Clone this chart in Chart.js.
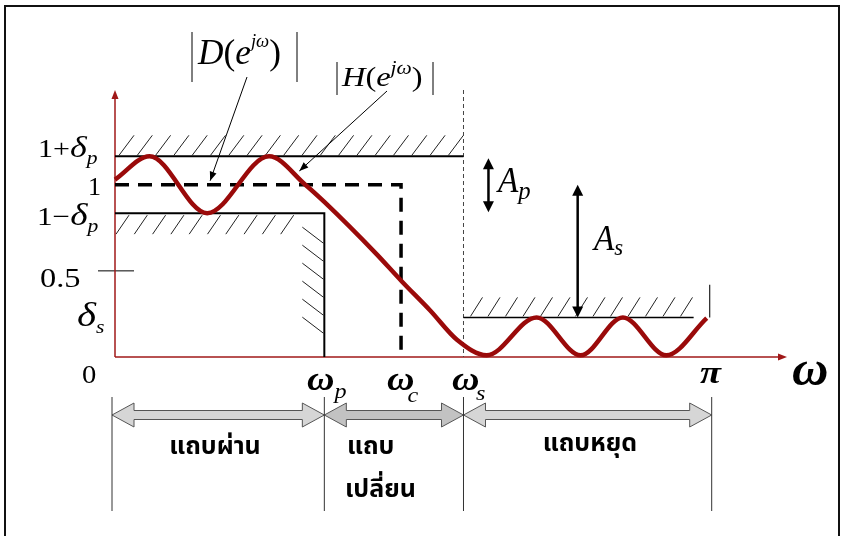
<!DOCTYPE html>
<html>
<head>
<meta charset="utf-8">
<script src="https://cdn.jsdelivr.net/npm/chart.js@4.4.0/dist/chart.umd.min.js"></script>
<style>
  html, body { margin: 0; padding: 0; background: #fff; }
</style>
</head>
<body>
<canvas id="spec" width="843" height="536"></canvas>
<script>
// ============================================================
// Filter specification (frequency in units of pi)
// ============================================================

const W_PASS = 0.352
const W_CUT = 0.481
const W_STOP = 0.586
const W_PI = 1
const W_MAX = 1.13
const DELTA_P = 0.165
const DELTA_S = 0.23
const MAG_MAX = 1.55

// realised response |H(e^jw)|
const responseFreq = [0, 0.058, 0.155, 0.259, 0.32, 0.352, 0.439, 0.482, 0.53, 0.575, 0.625, 0.709, 0.783, 0.854, 0.927, 0.995]
const responseMag  = [1.03, 1.165, 0.835, 1.165, 1.0, 0.9, 0.6, 0.44, 0.27, 0.1, 0.01, 0.23, 0.01, 0.23, 0.01, 0.226]

// ideal response |D(e^jw)|
const idealFreq = [0, W_CUT, W_CUT]
const idealMag  = [1, 1, 0.04]

// tolerance boundaries
const upperFreq = [0, W_STOP]
const upperMag  = [1 + DELTA_P, 1 + DELTA_P]
const lowerFreq = [0, W_PASS, W_PASS]
const lowerMag  = [1 - DELTA_P, 1 - DELTA_P, 0]
const stopFreq  = [W_STOP, 0.973]
const stopMag   = [DELTA_S, DELTA_S]
const stopEndFreq = [W_PI, W_PI]
const stopEndMag  = [DELTA_S, 0.42]
const stopEdgeFreq = [W_STOP, W_STOP]
const stopEdgeMag  = [MAG_MAX, 0]

// bands under the axis
const bandStart = [0, W_PASS, W_STOP]
const bandEnd   = [W_PASS, W_STOP, W_PI]
const bandNames = [['แถบผ่าน'], ['แถบ', 'เปลี่ยน'], ['แถบหยุด']]

const CURVE_RED = '#9a0a0a'
const AXIS_RED = '#a01818'
const SERIF = '"Liberation Serif", "DejaVu Serif", serif'
const THAI = '"Noto Sans Thai", Tahoma, sans-serif'

function pts(xs, ys) {
  return xs.map((x, i) => ({ x, y: ys[i] }))
}

// ============================================================
// Drawing helpers
// ============================================================

// runs of text, each with its own font / shift, scaled horizontally by sx
function drawRuns(ctx, x, y, runs, sx = 1) {
  ctx.save()
  ctx.translate(x, y)
  ctx.scale(sx, 1)
  ctx.fillStyle = '#000'
  ctx.textBaseline = 'alphabetic'
  ctx.textAlign = 'left'
  let cx = 0
  runs.forEach(r => {
    ctx.font = r.f + ' ' + SERIF
    ctx.fillText(r.t, cx + (r.dx || 0), r.dy || 0)
    cx += ctx.measureText(r.t).width + (r.dx || 0)
  })
  ctx.restore()
}

function line(ctx, x1, y1, x2, y2) {
  ctx.beginPath()
  ctx.moveTo(x1, y1)
  ctx.lineTo(x2, y2)
  ctx.stroke()
}

function head(ctx, x, y, angle, len, half) {
  ctx.save()
  ctx.translate(x, y)
  ctx.rotate(angle)
  ctx.beginPath()
  ctx.moveTo(0, 0)
  ctx.lineTo(-len, -half)
  ctx.lineTo(-len, half)
  ctx.closePath()
  ctx.fill()
  ctx.restore()
}

function hatch(ctx, x0, x1, yBase, h, lean, step) {
  for (let x = x0; x + lean <= x1; x += step) line(ctx, x, yBase, x + lean, yBase - h)
}

function blockArrow(ctx, xL, xR, yc, fill) {
  const hl = 22, hh = 12, sh = 4.5
  ctx.beginPath()
  ctx.moveTo(xL, yc)
  ctx.lineTo(xL + hl, yc - hh)
  ctx.lineTo(xL + hl, yc - sh)
  ctx.lineTo(xR - hl, yc - sh)
  ctx.lineTo(xR - hl, yc - hh)
  ctx.lineTo(xR, yc)
  ctx.lineTo(xR - hl, yc + hh)
  ctx.lineTo(xR - hl, yc + sh)
  ctx.lineTo(xL + hl, yc + sh)
  ctx.lineTo(xL + hl, yc + hh)
  ctx.closePath()
  ctx.fillStyle = fill
  ctx.fill()
  ctx.strokeStyle = '#555'
  ctx.lineWidth = 1
  ctx.stroke()
}

// ============================================================
// Axes, hatching and annotations
// ============================================================

const specPlugin = {
  id: 'spec',
  beforeDatasetsDraw(chart) {
    const { ctx, chartArea: a, scales: { x, y } } = chart
    ctx.save()

    // hatched forbidden regions
    ctx.strokeStyle = '#222'
    ctx.lineWidth = 1
    const yUp = y.getPixelForValue(1 + DELTA_P)
    const yLo = y.getPixelForValue(1 - DELTA_P)
    const ySt = y.getPixelForValue(DELTA_S)
    const xP = x.getPixelForValue(W_PASS)
    hatch(ctx, a.left + 4, x.getPixelForValue(W_STOP), yUp - 1, 20, 15, 18.3)
    hatch(ctx, a.left + 1, xP - 14, yLo + 21, 19, 13, 18.3)
    for (let k = 0; k < 6; k++) line(ctx, xP - 22, yLo + 14 + k * 18, xP - 1, yLo + 30 + k * 18)
    hatch(ctx, x.getPixelForValue(W_STOP) + 7, x.getPixelForValue(0.973), ySt - 1, 19, 12, 17.5)

    // 0.5 tick
    ctx.strokeStyle = '#000'
    const yHalf = y.getPixelForValue(0.5)
    line(ctx, a.left - 17, yHalf, a.left + 19, yHalf)

    // axes with arrowheads
    ctx.strokeStyle = AXIS_RED
    ctx.fillStyle = AXIS_RED
    ctx.lineWidth = 1.5
    line(ctx, a.left, a.bottom, a.left, a.top + 6)
    head(ctx, a.left, a.top, -Math.PI / 2, 9, 3.5)
    line(ctx, a.left, a.bottom, a.right - 6, a.bottom)
    head(ctx, a.right, a.bottom, 0, 9, 3.5)
    ctx.restore()
  },
  afterDatasetsDraw(chart) {
    const { ctx, scales: { x, y } } = chart
    ctx.save()
    ctx.fillStyle = '#000'
    ctx.strokeStyle = '#000'

    // Ap and As double arrows
    ctx.lineWidth = 2.5
    const xAp = x.getPixelForValue(0.628)
    const y1 = y.getPixelForValue(1 + DELTA_P) + 2
    const y2 = y.getPixelForValue(1 - DELTA_P) - 1
    line(ctx, xAp, y1 + 8, xAp, y2 - 8)
    head(ctx, xAp, y1, -Math.PI / 2, 11, 5.5)
    head(ctx, xAp, y2, Math.PI / 2, 11, 5.5)
    const xAs = x.getPixelForValue(0.778)
    const y3 = y.getPixelForValue(1)
    const y4 = y.getPixelForValue(DELTA_S)
    line(ctx, xAs, y3 + 8, xAs, y4 - 8)
    head(ctx, xAs, y3, -Math.PI / 2, 11, 5.5)
    head(ctx, xAs, y4, Math.PI / 2, 11, 5.5)

    // leader lines to the two curves
    ctx.lineWidth = 1
    const dEnd = [x.getPixelForValue(0.16), y.getPixelForValue(1) - 4]
    line(ctx, 247, 77, dEnd[0], dEnd[1])
    head(ctx, dEnd[0], dEnd[1], Math.atan2(dEnd[1] - 77, dEnd[0] - 247), 9, 3.5)
    const hEnd = [x.getPixelForValue(0.31), y.getPixelForValue(1.08)]
    line(ctx, 387, 91, hEnd[0], hEnd[1])
    head(ctx, hEnd[0], hEnd[1], Math.atan2(hEnd[1] - 91, hEnd[0] - 387), 9, 3.5)

    // |D(e^jw)| and |H(e^jw)|
    ctx.lineWidth = 1
    line(ctx, 192, 32, 192, 82)
    line(ctx, 297, 32, 297, 82)
    drawRuns(ctx, 198, 64, [
      { t: 'D', f: 'italic 36px' }, { t: '(', f: '36px' }, { t: 'e', f: 'italic 36px' },
      { t: 'jω', f: 'italic 19px', dy: -17 }, { t: ')', f: '36px' }
    ], 0.98)
    line(ctx, 337, 62, 337, 95)
    line(ctx, 433, 62, 433, 95)
    drawRuns(ctx, 342, 86, [
      { t: 'H', f: 'italic 27px' }, { t: '(', f: '27px' }, { t: 'e', f: 'italic 27px' },
      { t: 'jω', f: 'italic 18px', dy: -12 }, { t: ')', f: '27px' }
    ], 1.2)

    // magnitude labels
    drawRuns(ctx, 38, 157, [{ t: '1+', f: '25px' }, { t: 'δ', f: 'italic 30px' }, { t: 'p', f: 'italic 18px', dy: 7 }], 1.2)
    drawRuns(ctx, 88, y.getPixelForValue(1) + 10, [{ t: '1', f: '26px' }], 1.0)
    drawRuns(ctx, 37, 225, [{ t: '1−', f: '26px' }, { t: 'δ', f: 'italic 31px' }, { t: 'p', f: 'italic 18px', dy: 7 }], 1.2)
    drawRuns(ctx, 40, 287, [{ t: '0.5', f: '27px' }], 1.2)
    drawRuns(ctx, 77, 326, [{ t: 'δ', f: 'italic 34px' }, { t: 's', f: 'italic 18px', dy: 7 }], 1.2)

    // frequency labels
    drawRuns(ctx, 82, 383, [{ t: '0', f: '26px' }], 1.1)
    drawRuns(ctx, 307, 390, [{ t: 'ω', f: 'bold italic 33px' }, { t: 'p', f: 'italic 21px', dy: 8 }], 1.15)
    drawRuns(ctx, 387, 390, [{ t: 'ω', f: 'bold italic 33px' }, { t: 'c', f: 'italic 21px', dx: -6, dy: 12 }], 1.15)
    drawRuns(ctx, 452, 390, [{ t: 'ω', f: 'bold italic 33px' }, { t: 's', f: 'italic 21px', dx: -3, dy: 10 }], 1.15)
    drawRuns(ctx, 700, 383, [{ t: 'π', f: 'bold italic 32px' }], 1.2)
    drawRuns(ctx, 792, 385, [{ t: 'ω', f: 'bold italic 48px' }], 1.05)

    // Ap / As
    drawRuns(ctx, 498, 192, [{ t: 'A', f: 'italic 35px' }, { t: 'p', f: 'italic 26px', dy: 7 }], 0.95)
    drawRuns(ctx, 594, 250, [{ t: 'A', f: 'italic 35px' }, { t: 's', f: 'italic 24px', dy: 5 }], 0.95)

    // band arrows, separators and names
    const fills = ['#d6d6d6', '#c2c2c2', '#d6d6d6']
    bandStart.forEach((s, i) => {
      const xL = x.getPixelForValue(s) - (i === 0 ? 3 : 0)
      const xR = x.getPixelForValue(bandEnd[i]) + (i === 2 ? 2 : 0)
      blockArrow(ctx, xL, xR, 415, fills[i])
    })
    ctx.strokeStyle = '#333'
    ctx.lineWidth = 1
    ;[0, W_PASS, W_STOP, W_PI].forEach((f, i) => {
      const px = x.getPixelForValue(f) + (i === 0 ? -3 : i === 3 ? 2 : 0)
      line(ctx, px, 397, px, 511)
    })
    ctx.fillStyle = '#000'
    ctx.font = 'bold 25px ' + THAI
    ctx.textBaseline = 'middle'
    ctx.textAlign = 'center'
    ctx.fillText(bandNames[0][0], 215, 449)
    ctx.textAlign = 'left'
    ctx.fillText(bandNames[1][0], 347, 449)
    ctx.fillText(bandNames[1][1], 345, 492)
    ctx.textAlign = 'center'
    ctx.fillText(bandNames[2][0], 590, 446)

    // frame
    ctx.strokeStyle = '#111'
    ctx.lineWidth = 2
    ctx.strokeRect(5, 6, 834, 540)
    ctx.restore()
  }
}

// ============================================================
// Chart
// ============================================================

new Chart(document.getElementById('spec'), {
  type: 'line',
  data: {
    datasets: [
      {
        data: pts(responseFreq, responseMag),
        borderColor: CURVE_RED,
        borderWidth: 4.5,
        cubicInterpolationMode: 'monotone',
        pointRadius: 0,
        clip: false
      },
      {
        data: pts(idealFreq, idealMag),
        borderColor: '#000',
        borderWidth: 3.5,
        borderDash: [14, 9],
        pointRadius: 0
      },
      { data: pts(upperFreq, upperMag), borderColor: '#000', borderWidth: 2, pointRadius: 0 },
      { data: pts(lowerFreq, lowerMag), borderColor: '#000', borderWidth: 2, pointRadius: 0 },
      { data: pts(stopFreq, stopMag), borderColor: '#000', borderWidth: 1.5, pointRadius: 0 },
      { data: pts(stopEndFreq, stopEndMag), borderColor: '#222', borderWidth: 1.2, pointRadius: 0 },
      {
        data: pts(stopEdgeFreq, stopEdgeMag),
        borderColor: '#444',
        borderWidth: 1,
        borderDash: [4, 3],
        pointRadius: 0
      }
    ]
  },
  options: {
    responsive: false,
    animation: false,
    events: [],
    layout: { padding: { left: 115, right: 56, top: 90, bottom: 179 } },
    plugins: {
      legend: { display: false },
      tooltip: { enabled: false }
    },
    scales: {
      x: { type: 'linear', min: 0, max: W_MAX, display: false },
      y: { min: 0, max: MAG_MAX, display: false }
    }
  },
  plugins: [specPlugin]
})
</script>
</body>
</html>
